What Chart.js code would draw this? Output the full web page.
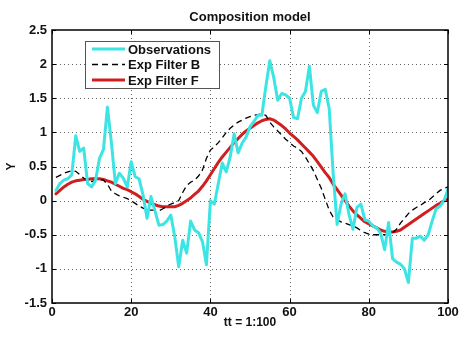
<!DOCTYPE html>
<html>
<head>
<meta charset="utf-8">
<script src="https://cdn.jsdelivr.net/npm/chart.js@4.4.1/dist/chart.umd.min.js"></script>
<style>
  html, body { margin: 0; padding: 0; background: #fff; }
  #wrap { width: 473px; height: 347px; }
</style>
</head>
<body>
<div id="wrap"><canvas id="myChart" width="473" height="347"></canvas></div>
<script>
const tt = [1,2,3,4,5,6,7,8,9,10,11,12,13,14,15,16,17,18,19,20,
  21,22,23,24,25,26,27,28,29,30,31,32,33,34,35,36,37,38,39,40,
  41,42,43,44,45,46,47,48,49,50,51,52,53,54,55,56,57,58,59,60,
  61,62,63,64,65,66,67,68,69,70,71,72,73,74,75,76,77,78,79,80,
  81,82,83,84,85,86,87,88,89,90,91,92,93,94,95,96,97,98,99,100];

const observations = [0.15,0.25,0.3,0.32,0.38,0.95,0.72,0.77,0.25,0.2,
  0.3,0.62,0.75,1.37,0.85,0.25,0.4,0.33,0.2,0.57,
  0.35,0.32,0.08,-0.26,0.06,-0.15,-0.36,-0.35,-0.3,-0.21,
  -0.53,-0.97,-0.58,-0.77,-0.3,-0.43,-0.47,-0.6,-0.94,0.0,
  -0.05,0.25,0.55,0.42,0.64,0.98,0.7,0.84,0.93,1.08,
  1.16,1.25,1.25,1.67,2.05,1.8,1.47,1.57,1.55,1.5,
  1.22,1.2,1.5,1.6,1.97,1.4,1.29,1.6,1.63,1.35,
  0.4,-0.35,-0.05,0.1,-0.2,-0.42,-0.1,-0.05,-0.28,-0.3,
  -0.37,-0.4,-0.48,-0.72,-0.32,-0.85,-0.9,-0.93,-1.0,-1.2,
  -0.55,-0.55,-0.52,-0.58,-0.5,-0.3,-0.12,-0.08,0.0,0.17];

const expFilterB = [0.34,0.37,0.4,0.42,0.44,0.43,0.38,0.33,0.29,0.28,
  0.3,0.31,0.3,0.24,0.14,0.1,0.07,0.05,0.03,0.0,
  -0.04,-0.08,-0.11,-0.14,-0.14,-0.14,-0.15,-0.12,-0.08,-0.05,
  -0.03,0.0,0.12,0.22,0.27,0.3,0.36,0.45,0.62,0.74,
  0.79,0.85,0.92,1.0,1.06,1.11,1.15,1.18,1.21,1.23,
  1.25,1.26,1.27,1.25,1.15,1.08,1.02,0.96,0.9,0.85,
  0.8,0.77,0.72,0.64,0.54,0.44,0.31,0.18,0.02,-0.14,
  -0.24,-0.28,-0.31,-0.33,-0.35,-0.37,-0.4,-0.44,-0.47,-0.49,
  -0.5,-0.5,-0.5,-0.5,-0.49,-0.47,-0.42,-0.33,-0.26,-0.19,
  -0.14,-0.1,-0.07,-0.03,0.0,0.05,0.1,0.15,0.18,0.2];

const expFilterF = [0.1,0.15,0.2,0.24,0.27,0.29,0.3,0.31,0.31,0.32,
  0.32,0.32,0.31,0.29,0.27,0.24,0.21,0.18,0.16,0.13,
  0.1,0.06,0.02,-0.01,-0.04,-0.06,-0.08,-0.09,-0.09,-0.09,
  -0.09,-0.07,-0.04,0.0,0.04,0.09,0.14,0.21,0.29,0.38,
  0.47,0.56,0.64,0.71,0.78,0.85,0.91,0.97,1.02,1.06,
  1.1,1.14,1.17,1.19,1.2,1.18,1.14,1.1,1.05,0.99,
  0.94,0.89,0.83,0.77,0.71,0.65,0.57,0.49,0.41,0.34,
  0.24,0.16,0.08,0.0,-0.08,-0.15,-0.21,-0.26,-0.31,-0.34,
  -0.37,-0.4,-0.43,-0.45,-0.46,-0.46,-0.45,-0.43,-0.39,-0.35,
  -0.31,-0.27,-0.23,-0.19,-0.15,-0.11,-0.07,-0.04,0.0,0.02];

const xTicks = [0, 20, 40, 60, 80, 100];
const yTicks = [-1.5, -1, -0.5, 0, 0.5, 1, 1.5, 2, 2.5];

const seriesNames = ["Observations", "Exp Filter B", "Exp Filter F"];
const titleText = "Composition model";

function pts(ys) {
    return tt.map((x, i) => ({ x: x, y: ys[i] }));
}

// matlab style frame, dotted grid, inner ticks, title and legend
const matlabLook = {
    id: 'matlabLook',
    beforeDatasetsDraw(chart) {
        const { ctx, chartArea: a, scales } = chart;
        ctx.save();
        ctx.strokeStyle = '#666';
        ctx.lineWidth = 1;
        ctx.setLineDash([1, 3]);
        xTicks.forEach(v => {
            if (v === 0 || v === 100) return;
            const px = Math.round(scales.x.getPixelForValue(v)) + 0.5;
            ctx.beginPath(); ctx.moveTo(px, a.top); ctx.lineTo(px, a.bottom); ctx.stroke();
        });
        yTicks.forEach(v => {
            if (v === -1.5 || v === 2.5) return;
            const py = Math.round(scales.y.getPixelForValue(v)) + 0.5;
            ctx.beginPath(); ctx.moveTo(a.left, py); ctx.lineTo(a.right, py); ctx.stroke();
        });
        ctx.restore();
    },
    afterDraw(chart) {
        const { ctx, chartArea: a, scales } = chart;
        ctx.save();
        ctx.setLineDash([]);
        ctx.strokeStyle = '#000';
        ctx.lineWidth = 1;
        xTicks.forEach(v => {
            const px = Math.round(scales.x.getPixelForValue(v)) + 0.5;
            ctx.beginPath();
            ctx.moveTo(px, a.bottom); ctx.lineTo(px, a.bottom - 4);
            ctx.moveTo(px, a.top); ctx.lineTo(px, a.top + 4);
            ctx.stroke();
        });
        yTicks.forEach(v => {
            const py = Math.round(scales.y.getPixelForValue(v)) + 0.5;
            ctx.beginPath();
            ctx.moveTo(a.left, py); ctx.lineTo(a.left + 4, py);
            ctx.moveTo(a.right, py); ctx.lineTo(a.right - 4, py);
            ctx.stroke();
        });
        ctx.lineWidth = 1.5;
        ctx.strokeRect(a.left, a.top, a.right - a.left, a.bottom - a.top);

        // title
        ctx.fillStyle = '#111';
        ctx.font = 'bold 13px "Liberation Sans", Arial, sans-serif';
        ctx.textAlign = 'center';
        ctx.textBaseline = 'middle';
        ctx.fillText(titleText, (a.left + a.right) / 2, 17);

        // legend box
        const lx = a.left + 33, ly = a.top + 11, lw = 134, lh = 47;
        ctx.fillStyle = '#fff';
        ctx.fillRect(lx, ly, lw, lh);
        ctx.strokeStyle = '#555';
        ctx.lineWidth = 1;
        ctx.strokeRect(lx + 0.5, ly + 0.5, lw, lh);
        chart.data.datasets.forEach((ds, i) => {
            const y = ly + 8 + i * 15.5;
            ctx.strokeStyle = ds.borderColor;
            ctx.lineWidth = ds.borderWidth;
            ctx.setLineDash(ds.borderDash || []);
            ctx.beginPath(); ctx.moveTo(lx + 7, y); ctx.lineTo(lx + 40, y); ctx.stroke();
            ctx.setLineDash([]);
            ctx.fillStyle = '#111';
            ctx.textAlign = 'left';
            ctx.font = 'bold 13px "Liberation Sans", Arial, sans-serif';
            ctx.fillText(ds.label, lx + 43, y + 1);
        });
        ctx.restore();
    }
};

const ctx = document.getElementById('myChart');
const tickFont = { family: '"Liberation Sans", Arial, sans-serif', size: 13, weight: 'bold' };

const myChart = new Chart(ctx, {
    type: 'line',
    data: {
        datasets: [{
            label: seriesNames[0],
            data: pts(observations),
            borderColor: '#3de4e4',
            borderWidth: 3,
            borderJoinStyle: 'round',
            borderCapStyle: 'round',
            pointRadius: 0,
            tension: 0
        }, {
            label: seriesNames[1],
            data: pts(expFilterB),
            borderColor: '#000000',
            borderWidth: 1.3,
            borderDash: [6, 4],
            pointRadius: 0,
            tension: 0
        }, {
            label: seriesNames[2],
            data: pts(expFilterF),
            borderColor: '#cf1f1f',
            borderWidth: 3,
            borderJoinStyle: 'round',
            borderCapStyle: 'round',
            pointRadius: 0,
            tension: 0
        }]
    },
    options: {
        responsive: false,
        animation: false,
        layout: { padding: { top: 30, right: 25, bottom: 13, left: 0 } },
        plugins: {
            legend: { display: false },
            tooltip: { enabled: false }
        },
        scales: {
            x: {
                type: 'linear',
                min: 0,
                max: 100,
                afterBuildTicks: s => { s.ticks = xTicks.map(v => ({ value: v })); },
                afterFit: s => { s.height = 31; },
                grid: { display: false, drawTicks: false },
                border: { display: false },
                ticks: { color: '#111', font: tickFont, padding: 2, maxRotation: 0, callback: v => String(v) },
                title: {
                    display: true,
                    text: 'tt = 1:100',
                    color: '#111',
                    font: { family: '"Liberation Sans", Arial, sans-serif', size: 12, weight: 'bold' },
                    padding: { top: 0, bottom: 4 }
                }
            },
            y: {
                min: -1.5,
                max: 2.5,
                afterBuildTicks: s => { s.ticks = yTicks.map(v => ({ value: v })); },
                afterFit: s => { s.width = 52; },
                grid: { display: false, drawTicks: false },
                border: { display: false },
                ticks: { color: '#111', font: tickFont, padding: 5, callback: v => String(v) },
                title: {
                    display: true,
                    text: 'Y',
                    color: '#111',
                    font: { family: '"Liberation Sans", Arial, sans-serif', size: 12, weight: 'bold' },
                    padding: { top: 4, bottom: 0 }
                }
            }
        }
    },
    plugins: [matlabLook]
});
</script>
</body>
</html>
